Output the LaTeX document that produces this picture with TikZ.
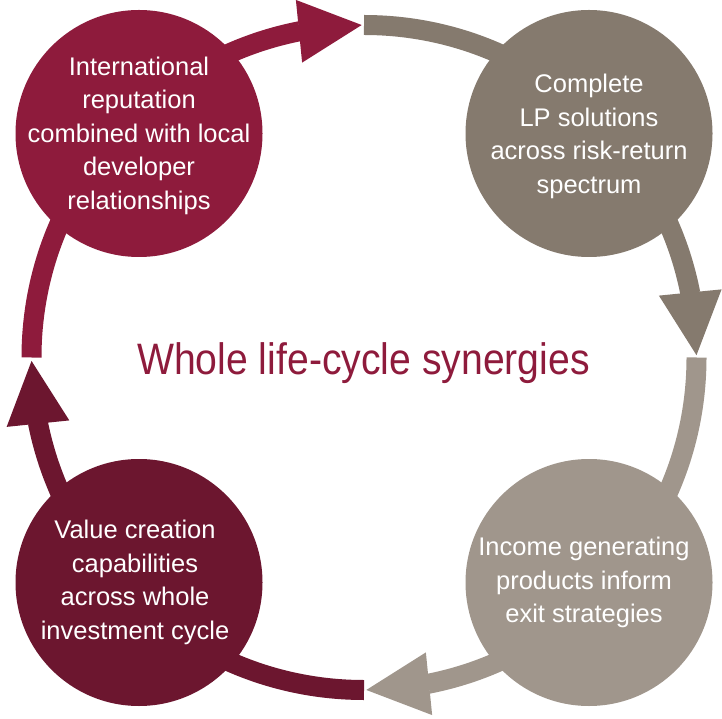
\documentclass[tikz,border=0pt]{standalone}
\usepackage{fontspec}
\setmainfont{Liberation Sans}
\newfontfamily\headfont[FakeStretch=0.89]{Liberation Sans}
\usetikzlibrary{arrows.meta,bending}
\definecolor{crimson}{RGB}{142,27,60}
\definecolor{taupe}{RGB}{133,122,110}
\definecolor{stone}{RGB}{160,150,140}
\definecolor{wine}{RGB}{108,22,47}
\begin{document}
\begin{tikzpicture}[x=1pt,y=1pt,
  band/.style={line width=20pt,
    -{Triangle[length=63pt,width=63pt,line width=0pt,flex=1]}},
  disc/.style={circle, minimum size=247pt, inner sep=0pt, draw=none},
  caption/.style={text=white, align=center, inner sep=0pt,
    font=\fontsize{25.5}{33.5}\selectfont},
]
\useasboundingbox (0,0) rectangle (722,718);

% quarter points of the cycle ring (centre (364,360.5), radius 332.5)
\coordinate (W) at (31.5,360.5);
\coordinate (N) at (364,693);
\coordinate (E) at (696.5,360.5);
\coordinate (S) at (364,28);

% cycle arrows
\draw[band, crimson] (W) arc[start angle=180, end angle=90.4, radius=332.5];
\draw[band, taupe]   (N) arc[start angle=90,  end angle=0.4,  radius=332.5];
\draw[band, stone]   (E) arc[start angle=0,   end angle=-89.6, radius=332.5];
\draw[band, wine]    (S) arc[start angle=-90, end angle=-179.4, radius=332.5];

% stage discs
\node[disc, fill=crimson] (intl)   at (139,584.5) {};
\node[disc, fill=taupe]   (lp)     at (589,584.5) {};
\node[disc, fill=stone]   (income) at (589,135.5) {};
\node[disc, fill=wine]    (value)  at (139,135.5) {};

% stage texts
\node[caption] (intl-text) at ([yshift=-2pt]intl.center) {International\\reputation\\combined with local\\developer\\relationships};
\node[caption] (lp-text) at ([yshift=-3pt]lp.center) {Complete\\LP solutions\\across risk-return\\spectrum};
\node[caption] (income-text) at ([xshift=-5pt]income.center) {Income generating\\products inform\\exit strategies};
\node[caption] (value-text) at ([xshift=-4pt]value.center) {Value creation\\capabilities\\across whole\\investment cycle};

% centre title
\node[text=crimson, font=\headfont\fontsize{44}{44}\selectfont, anchor=base, inner sep=0pt]
  (title) at (363.5,343) {Whole life-cycle synergies};
\end{tikzpicture}
\end{document}
